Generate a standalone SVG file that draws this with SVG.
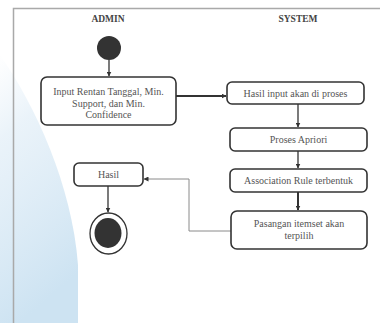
<svg xmlns="http://www.w3.org/2000/svg" width="380" height="323" viewBox="0 0 380 323">
  <defs>
    <linearGradient id="wash" x1="0" y1="0" x2="0.25" y2="1">
      <stop offset="0" stop-color="#dcebf6" stop-opacity="0"/>
      <stop offset="0.3" stop-color="#d9e9f5" stop-opacity="0.55"/>
      <stop offset="1" stop-color="#cde3f2"/>
    </linearGradient>
    <marker id="arrow" viewBox="0 0 10 10" refX="9" refY="5" markerWidth="5" markerHeight="5" markerUnits="userSpaceOnUse" orient="auto">
      <path d="M0,0 L10,5 L0,10 Z" fill="#333"/>
    </marker>
  </defs>
  <style>
    .frame { stroke: #a9a9a9; stroke-width: 1.5; fill: none; }
    .lane { font-family: "Liberation Serif", serif; font-size: 9.5px; font-weight: bold; fill: #444; text-anchor: middle; }
    .box { fill: #fff; stroke: #333; stroke-width: 1.6; }
    .label { font-family: "Liberation Serif", serif; font-size: 10px; fill: #555; text-anchor: middle; }
    .flow { stroke: #333; stroke-width: 1.3; fill: none; marker-end: url(#arrow); }
    .thick { stroke-width: 2; }
    .back { stroke: #8a8a8a; stroke-width: 1; fill: none; marker-end: url(#arrow); }
  </style>

  <rect width="380" height="323" fill="#fff"/>
  <!-- soft blue wash on the left margin -->
  <path d="M0,55 C35,105 72,185 78,265 L78,323 L0,323 Z" fill="url(#wash)"/>

  <!-- swimlane frame -->
  <path class="frame" d="M13.5,323 L13.5,8.5 L380,8.5"/>
  <text class="lane" x="108" y="22">ADMIN</text>
  <text class="lane" x="298" y="22">SYSTEM</text>

  <g id="connectors">
    <line class="flow" x1="109" y1="60" x2="109" y2="76"/>
    <line class="flow thick" x1="176" y1="96" x2="226" y2="96"/>
    <line class="flow" x1="298" y1="104" x2="298" y2="127"/>
    <line class="flow" x1="298" y1="151" x2="298" y2="168"/>
    <line class="flow thick" x1="298" y1="192" x2="298" y2="210"/>
    <polyline class="back" points="231,231 189,231 189,179 144,179"/>
    <line class="flow" x1="108" y1="186" x2="108" y2="212"/>
  </g>

  <g id="start">
    <circle cx="109" cy="48" r="12" fill="#333"/>
  </g>

  <g id="input">
    <rect class="box" x="41" y="77" width="135" height="48" rx="6"/>
    <text class="label" x="108.5" y="95">Input Rentan Tanggal, Min.</text>
    <text class="label" x="108.5" y="106.5">Support, dan Min.</text>
    <text class="label" x="108.5" y="118">Confidence</text>
  </g>

  <g id="hasil-input">
    <rect class="box" x="227" y="82" width="137" height="22" rx="5"/>
    <text class="label" x="295.5" y="96.5">Hasil input akan di proses</text>
  </g>

  <g id="apriori">
    <rect class="box" x="230" y="128" width="137" height="23" rx="5"/>
    <text class="label" x="298.5" y="143">Proses Apriori</text>
  </g>

  <g id="association">
    <rect class="box" x="230" y="169" width="137" height="23" rx="5"/>
    <text class="label" x="298.5" y="184">Association Rule terbentuk</text>
  </g>

  <g id="pasangan">
    <rect class="box" x="231" y="211" width="136" height="38" rx="6"/>
    <text class="label" x="299" y="227">Pasangan itemset akan</text>
    <text class="label" x="299" y="239">terpilih</text>
  </g>

  <g id="hasil">
    <rect class="box" x="74" y="163" width="69" height="23" rx="5"/>
    <text class="label" x="108.5" y="178">Hasil</text>
  </g>

  <g id="end">
    <ellipse cx="108.5" cy="233.5" rx="18.5" ry="20.5" fill="#fff" stroke="#333" stroke-width="1.3"/>
    <ellipse cx="108" cy="233" rx="13.5" ry="15" fill="#333"/>
  </g>
</svg>
